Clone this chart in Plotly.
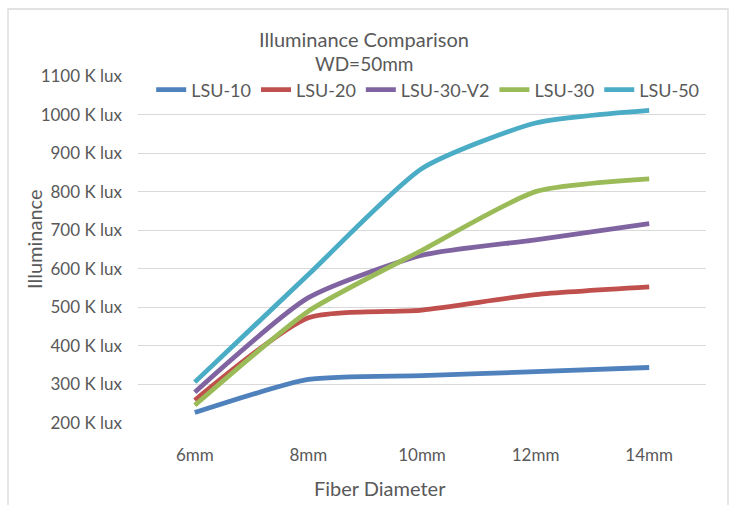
import plotly.graph_objects as go

categories = ["6mm", "8mm", "10mm", "12mm", "14mm"]
series_names = ["LSU-10", "LSU-20", "LSU-30-V2", "LSU-30", "LSU-50"]
lsu_10 = [227, 313, 323, 333, 344]
lsu_20 = [259, 473, 493, 533, 553]
lsu_30_v2 = [280, 525, 635, 675, 717]
lsu_30 = [246, 490, 648, 800, 833]
lsu_50 = [306, 585, 860, 978, 1011]
y_ticks = [200, 300, 400, 500, 600, 700, 800, 900, 1000]
y_tick_labels = [f"{v} K lux" for v in y_ticks]
top_tick = [1100]
top_tick_label = ["1100 K lux"]

colors = ["#4F81BD", "#C0504D", "#8064A2", "#9BBB59", "#4BACC6"]
values = [lsu_10, lsu_20, lsu_30_v2, lsu_30, lsu_50]

FONT = "Lato"
GRAY = "#595959"
TICK_FS = 17
LEG_FS = 18
TITLE_FS = 20

W, H = 732, 505
L, R, T, B = 138, 26, 76, 82
pw, ph = W - L - R, H - T - B

def px_x(x):
    return (x - L) / pw

def px_y(y):
    return (H - B - y) / ph

fig = go.Figure()
for name, vals, col in zip(series_names, values, colors):
    fig.add_trace(go.Scatter(
        x=categories, y=vals, name=name, mode="lines",
        line=dict(color=col, width=4.8, shape="spline", smoothing=0.6),
    ))

# carrier for the top tick label on the overlaid axis (invisible)
fig.add_trace(go.Scatter(x=[categories[0]], y=top_tick, yaxis="y2", mode="markers",
                         marker=dict(opacity=0), showlegend=False, hoverinfo="skip"))

fig.update_layout(
    width=W, height=H,
    margin=dict(l=L, r=R, t=T, b=B),
    paper_bgcolor="white", plot_bgcolor="white",
    font=dict(family=FONT, size=TICK_FS, color=GRAY),
    showlegend=True,
    legend=dict(orientation="h", x=0.51, xanchor="center", y=px_y(90), yanchor="middle",
                font=dict(family=FONT, size=LEG_FS, color=GRAY), bgcolor="rgba(0,0,0,0)",
                itemwidth=30, tracegroupgap=0),
    xaxis=dict(type="category", range=[-0.5, 4.5], showgrid=False, zeroline=False,
               showline=False, ticks="", ticklabelstandoff=20,
               tickfont=dict(family=FONT, size=TICK_FS, color=GRAY)),
    yaxis=dict(range=[200, 1100], tickvals=y_ticks, ticktext=y_tick_labels,
               showgrid=True, gridcolor="#D9D9D9", gridwidth=1.3, zeroline=False,
               showline=False, ticks="", ticklabelstandoff=15,
               tickfont=dict(family=FONT, size=TICK_FS, color=GRAY)),
    yaxis2=dict(range=[200, 1100], overlaying="y", side="left", tickvals=top_tick,
                ticktext=top_tick_label, showgrid=False, zeroline=False, showline=False,
                ticks="", ticklabelstandoff=15,
                tickfont=dict(family=FONT, size=TICK_FS, color=GRAY)),
    annotations=[
        dict(text="Illuminance Comparison", x=px_x(364), y=px_y(39), xref="paper", yref="paper",
             showarrow=False, xanchor="center", yanchor="middle",
             font=dict(family=FONT, size=TITLE_FS, color=GRAY)),
        dict(text="WD=50mm", x=px_x(364), y=px_y(63), xref="paper", yref="paper",
             showarrow=False, xanchor="center", yanchor="middle",
             font=dict(family=FONT, size=TITLE_FS - 1, color=GRAY)),
        dict(text="Illuminance", x=px_x(34), y=px_y(240), xref="paper", yref="paper",
             showarrow=False, xanchor="center", yanchor="middle", textangle=-90,
             font=dict(family=FONT, size=TITLE_FS, color=GRAY)),
        dict(text="Fiber Diameter", x=px_x(380), y=px_y(488), xref="paper", yref="paper",
             showarrow=False, xanchor="center", yanchor="middle",
             font=dict(family=FONT, size=TITLE_FS, color=GRAY)),
    ],
    shapes=[dict(type="rect", xref="paper", yref="paper",
                 x0=px_x(8), x1=px_x(728), y0=px_y(507), y1=px_y(9),
                 line=dict(color="#D9D9D9", width=1.3), fillcolor="rgba(0,0,0,0)", layer="below")],
)

fig.write_html("out.html", config={"displayModeBar": False},
               post_script="document.body.style.margin='0px';")
